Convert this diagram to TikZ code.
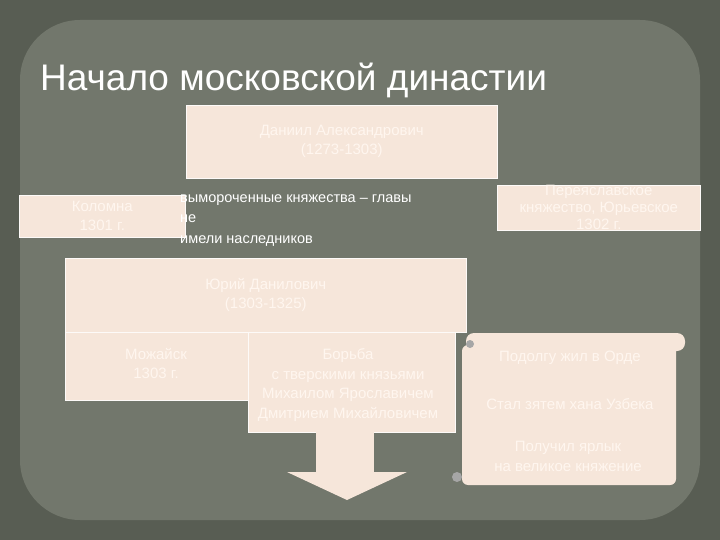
\documentclass[tikz,border=0pt]{standalone}
\usepackage{fontspec}
\setmainfont{Liberation Sans}
\begin{document}
\begin{tikzpicture}[x=1pt,y=-1pt,
  box/.style={fill=boxc,draw=white!80!boxc,line width=0.6pt,inner sep=0pt,text=txt,align=center,font=\fontsize{15}{19}\selectfont},
  tx/.style={text=txt,align=center,inner sep=0pt},
]
\definecolor{bg}{HTML}{585D53}
\definecolor{bgin}{HTML}{72776C}
\definecolor{boxc}{HTML}{F6E6DA}
\definecolor{txt}{HTML}{FFF6EF}
\useasboundingbox (0,0) rectangle (720,540);
\fill[bg] (0,0) rectangle (720,540);
\fill[bgin,rounded corners=60pt] (20,20) rectangle (700,520);
\node[anchor=west,text=white,inner sep=0pt,font=\fontsize{37}{42}\selectfont] (title) at (40,80) {Начало московской династии};
\node[box,minimum width=311,minimum height=73,anchor=north west] (dan) at (186,105) {Даниил Александрович\\(1273-1303)};
\node[box,minimum width=166,minimum height=42,anchor=north west] (kol) at (19,195) {Коломна\\1301 г.};
\node[box,minimum width=203,minimum height=45,anchor=north west,font=\fontsize{15}{17}\selectfont] (per) at (497,185) {Переяславское\\княжество, Юрьевское\\1302 г.};
\node[anchor=north west,align=left,text=white,inner sep=0pt,font=\fontsize{14.5}{20.5}\selectfont] (vym) at (180,194) {вымороченные княжества – главы\\не\\ имели наследников};
\node[box,minimum width=401,minimum height=74,anchor=north west] (yur) at (65,258) {Юрий Данилович\\(1303-1325)};
\node[box,minimum width=183,minimum height=68,anchor=north west] (moz) at (65,332) {};
\node[tx,font=\fontsize{15}{19}\selectfont] (mozt) at (156,364) {Можайск\\1303 г.};
\node[box,minimum width=207,minimum height=100,anchor=north west] (bor) at (248,332) {};
\node[tx,font=\fontsize{15}{19.5}\selectfont] (bort) at (348,385) {Борьба\\с тверскими князьями\\Михаилом Ярославичем\\Дмитрием Михайловичем};
\fill[boxc] (316,432) rectangle (374,472);
\fill[boxc] (287,472) -- (407,472) -- (347,500) -- cycle;
\fill[boxc,rounded corners=6pt] (462,345) rectangle (676,485);
\fill[boxc,rounded corners=8pt] (466,333) rectangle (685,351);
\fill[gray!70] (470,344) circle (4pt);
\fill[gray!70] (457,477) circle (5pt);
\node[tx,font=\fontsize{15}{19}\selectfont] (s1) at (570,358) {Подолгу жил в Орде};
\node[tx,font=\fontsize{15}{19}\selectfont] (s2) at (570,404) {Стал зятем хана Узбека};
\node[tx,font=\fontsize{15}{20}\selectfont] (s3) at (568,456) {Получил ярлык\\на великое княжение};
\end{tikzpicture}
\end{document}
